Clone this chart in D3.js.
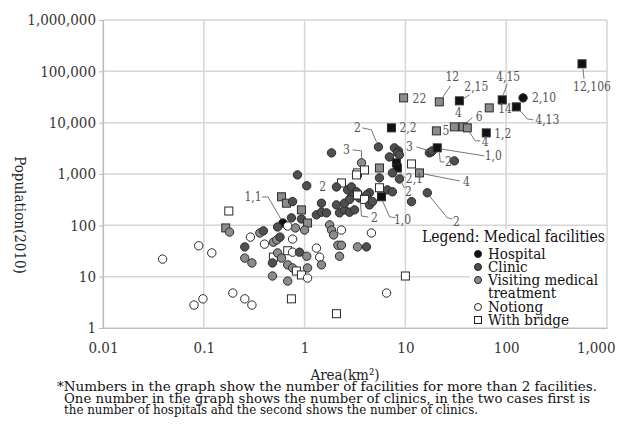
<!DOCTYPE html>
<html><head><meta charset="utf-8">
<script src="https://cdn.jsdelivr.net/npm/d3@7"></script>
<style>body{margin:0;background:#fff} svg text{font-family:"DejaVu Serif Condensed","DejaVu Serif",serif;font-stretch:condensed;}</style>
</head><body><svg id="c" width="618" height="424"></svg>
<script>
// ---------- data ----------
const xTicks = [0.01, 0.1, 1, 10, 100, 1000];
const yTicks = [1, 10, 100, 1000, 10000, 100000, 1000000];
// facility: H hospital, C clinic, V visiting medical treatment, N nothing ; bridge: 1 = with bridge (square)
const area = [565,9.6,21.7,34.3,67.9,91.3,147,126,30.6,37.5,41.1,20.3,63.4,7.27,5.4,7.78,8.53,8.33,6.94,8.72,
  17.3,18.1,18.5,20.7,30.6,5.53,8.14,8.33,11.5,13.8,7.43,8.72,5.53,16.5,11.5,6.63,7.43,4.4,5.53,5.79,
  3.67,1.85,3.35,3.93,2.32,0.85,1.05,2.67,2.92,3.27,2.92,3.5,4.11,3.35,3.93,1.31,1.47,1.65,2.22,2.49,
  2.79,3.13,4.4,1.47,2.07,2.07,2.49,3.27,1.77,1.85,1.94,2.32,2.14,2.32,2.22,3.35,4.11,4.6,1.31,1.41,
  1.47,0.61,0.74,0.59,0.66,0.76,0.93,0.93,1.07,1.0,0.54,0.81,0.68,0.76,0.49,0.53,0.57,0.40,0.36,0.39,
  0.29,0.255,0.255,0.30,0.49,0.54,0.59,0.48,0.68,0.76,0.89,1.05,0.68,0.76,0.83,0.93,1.07,1.07,0.48,0.68,
  0.165,0.18,0.177,0.039,0.089,0.12,0.08,0.098,0.194,0.255,0.30,0.74,2.07,6.5,10,2.79,4.71];
const population = [140000,30400,25400,26600,19400,27800,30400,20300,8280,8280,7920,6920,6320,7920,3370,3230,2820,2580,2150,2360,
  2580,2700,2820,3230,1800,1310,1650,1310,1570,1050,1050,800,840,430,290,490,450,430,540,360,
  1650,2580,1050,1200,670,960,590,490,560,450,360,340,390,390,320,160,180,175,175,200,
  180,200,250,270,560,250,270,960,102,81,65,81,41,41,25,38,38,71,36,24,
  17,111,140,360,270,290,200,133,111,81,93,89,97,54,47,52,59,43,71,78,
  59,38,23,18.5,24,29,23,18.5,32,30,30,25,17,14.8,12.9,10.8,14.8,9.4,10.3,8.2,
  89,74,190,22,40,29,2.8,3.7,4.8,3.7,2.8,3.7,1.9,4.8,10.3,320,290];
const facility = ["H","V","V","H","V","H","H","H","V","V","V","V","H","H","C","C","C","C","C","C",
  "C","C","C","H","C","V","H","H","N","V","C","C","C","C","C","C","C","C","N","H",
  "V","C","N","N","N","C","C","C","C","C","C","C","C","N","N","C","C","C","C","C",
  "C","C","C","C","C","C","C","N","V","V","V","N","V","V","V","V","C","N","N","N",
  "V","H","C","V","V","C","V","C","V","V","C","V","N","N","V","V","C","N","V","C",
  "N","C","V","V","N","V","V","C","N","N","C","V","V","V","N","N","V","N","V","V",
  "V","V","N","N","N","N","N","N","N","N","N","N","N","N","N","C","C"];
const bridge = [1,1,1,1,1,1,0,1,1,1,1,1,1,1,0,0,0,0,0,0,
  0,0,0,1,0,1,1,1,1,1,0,0,0,0,0,0,0,0,1,1,
  0,0,1,1,1,0,0,0,0,0,0,0,0,1,1,0,0,0,0,0,
  0,0,0,0,0,0,0,1,0,0,0,0,0,0,0,0,0,0,0,0,
  0,0,0,1,1,0,1,0,1,0,0,0,0,0,0,0,0,0,0,0,
  0,0,0,0,1,0,0,0,1,0,0,0,0,0,1,1,0,0,0,0,
  1,0,1,0,0,0,0,0,0,0,0,1,1,0,1,0,0];
// point labels (number of facilities) and the point each belongs to
const labelText  = ["12,106","22","12","2,15","4","6","4","14","4,15","2,10","4,13","5","1,2","2,2","2","3","1,0","2","2,1","4","2","1,0","2","2","3","2","1,1"];
const labelPoint = [0,1,2,3,8,9,10,4,5,6,7,11,12,13,14,21,23,22,27,29,33,39,51,31,40,46,81];
const legendLabels = ["Hospital","Clinic","Visiting medical","treatment","Notiong","With bridge"];
const legendKeys = [["H",0],["C",0],["V",0],null,["N",0],["N",1]];
const noteLines = ["*Numbers in the graph show the number of facilities for more than 2 facilities.",
  "One number in the graph shows the number of clinics, in the two cases first is",
  "the number of hospitals and the second shows the number of clinics."];

// ---------- layout ----------
const labelLayout = [ // [dx, dy, anchor, leader offsets]
  [10,27,"middle",[[1,5],[2,15]]],
  [9,5,"start",null],
  [13,-21,"middle",[[3,-4],[11,-16]]],
  [17,-10,"middle",[[4,-2],[10,-6]]],
  [4,-10,"middle",null],
  [16,-6,"middle",[[3,-4],[9,-9]]],
  [18,18,"middle",[[2,4],[8,13],[13,13]]],
  [9,5,"start",null],
  [6,-19,"middle",[[1,-5],[5,-16]]],
  [9,4,"start",null],
  [19,17,"start",[[3,3],[11,12],[17,13]]],
  [6,4,"start",null],
  [8,5,"start",null],
  [8,4,"start",null],
  [-21,-15,"middle",[[-2,-5],[-7,-17],[-16,-19]]],
  [-22,-1,"middle",[[-2,-1],[-15,-5]]],
  [56,12,"middle",[[3,1],[47,8]]],
  [16,15,"middle",[[7,2],[8,11],[12,11]]],
  [17,15,"middle",[[2,4],[8,10]]],
  [47,13,"middle",[[4,1],[40,8]]],
  [29,33,"middle",[[2,3],[20,25],[25,26]]],
  [21,27,"middle",[[1,4],[8,20],[14,21]]],
  [15,24,"middle",[[1,4],[2,18],[9,19]]],
  [9,17,"middle",[[2,3],[5,9]]],
  [-15,-9,"middle",[[0,-4],[0,-12],[-9,-13]]],
  [16,5,"middle",null],
  [-30,-22,"middle",[[-2,-4],[-15,-26],[-21,-26]]]
];
const fillOf = {H:"#111", C:"#4f4f4f", V:"#8c8c8c", N:"#fff"};

const svg = d3.select("#c");
const L = 103, R = 607, T = 20, B = 328;
const x = d3.scaleLog().domain([0.01, 1000]).range([L, R]);
const y = d3.scaleLog().domain([1, 1000000]).range([B, T]);

// grid
const g = svg.append("g");
g.selectAll(".vx").data(xTicks).join("line")
  .attr("x1", d => x(d)).attr("x2", d => x(d)).attr("y1", T).attr("y2", B)
  .attr("stroke", "#d6d6d6").attr("stroke-width", 1.5);
g.selectAll(".hy").data(yTicks).join("line")
  .attr("x1", L).attr("x2", R).attr("y1", d => y(d)).attr("y2", d => y(d))
  .attr("stroke", "#d6d6d6").attr("stroke-width", 1.5);

// axes
const ya = svg.append("g").attr("transform", `translate(${L},0)`)
  .call(d3.axisLeft(y).tickValues(yTicks).tickFormat(d3.format(",")).tickSize(4).tickPadding(3));
const xa = svg.append("g").attr("transform", `translate(0,${B})`)
  .call(d3.axisBottom(x).tickValues(xTicks).tickFormat(d3.format(",")).tickSize(0).tickPadding(14));
[ya, xa].forEach(a => {
  a.attr("font-family", null);
  a.select(".domain").attr("stroke", "#bdbdbd").attr("stroke-width", 1.2);
  a.selectAll(".tick line").attr("stroke", "#bdbdbd");
  a.selectAll("text").attr("font-size", 15).attr("fill", "#333");
});
xa.selectAll(".tick text").filter(d => d === 1000).attr("text-anchor", "end").attr("dx", 8);

// points
const pts = area.map((a, i) => ({a, p: population[i], f: facility[i], b: bridge[i]}));
const pg = svg.append("g");
pts.forEach(d => {
  const cx = x(d.a), cy = y(d.p);
  if (d.b) {
    pg.append("rect").attr("x", cx - 4).attr("y", cy - 4).attr("width", 8).attr("height", 8)
      .attr("fill", fillOf[d.f]).attr("stroke", "#2b2b2b").attr("stroke-width", 1);
  } else {
    pg.append("circle").attr("cx", cx).attr("cy", cy).attr("r", 4.2)
      .attr("fill", fillOf[d.f]).attr("stroke", "#2b2b2b").attr("stroke-width", 1);
  }
});

// labels
const lg = svg.append("g");
labelText.forEach((t, i) => {
  const d = pts[labelPoint[i]], px = x(d.a), py = y(d.p);
  const [dx, dy, anc, lead] = labelLayout[i];
  if (lead) {
    lg.append("path").attr("d", d3.line()(lead.map(o => [px + o[0], py + o[1]])))
      .attr("fill", "none").attr("stroke", "#666").attr("stroke-width", 0.9);
  }
  lg.append("text").attr("x", px + dx).attr("y", py + dy).attr("text-anchor", anc)
    .attr("font-size", 12).attr("fill", "#555").text(t);
});

// legend
const leg = svg.append("g");
leg.append("rect").attr("x", 420).attr("y", 229).attr("width", 186).attr("height", 16).attr("fill", "#fff");
leg.append("rect").attr("x", 470).attr("y", 245).attr("width", 136).attr("height", 82).attr("fill", "#fff");
leg.append("text").attr("x", 422).attr("y", 242).attr("font-size", 16)
  .attr("textLength", 183).attr("lengthAdjust", "spacingAndGlyphs").attr("fill", "#111")
  .text("Legend: Medical facilities");
const rowY = [254, 267, 280, 293, 307, 320];
legendLabels.forEach((t, i) => {
  const k = legendKeys[i];
  if (k) {
    if (k[1]) leg.append("rect").attr("x", 474.5).attr("y", rowY[i] - 3.5).attr("width", 7).attr("height", 7)
      .attr("fill", fillOf[k[0]]).attr("stroke", "#222");
    else leg.append("circle").attr("cx", 478).attr("cy", rowY[i]).attr("r", 3.5)
      .attr("fill", fillOf[k[0]]).attr("stroke", "#222");
  }
  leg.append("text").attr("x", 488).attr("y", rowY[i] + 5).attr("font-size", 15)
    .attr("fill", "#111").text(t);
});

// axis titles
svg.append("text").attr("x", 345).attr("y", 380).attr("text-anchor", "middle")
  .attr("font-size", 15).attr("fill", "#222").text("Area(km²)");
svg.append("text").attr("transform", "translate(15,215) rotate(90)").attr("text-anchor", "middle")
  .attr("font-size", 15).attr("fill", "#222").text("Population(2010)");

// footnote
const nx = [57, 64, 64], nw = [540, 526, 414], ny = [391, 402.5, 414];
noteLines.forEach((t, i) => {
  svg.append("text").attr("x", nx[i]).attr("y", ny[i]).attr("font-size", 12)
    .attr("textLength", nw[i]).attr("lengthAdjust", "spacingAndGlyphs").attr("fill", "#111").text(t);
});
</script></body></html>
